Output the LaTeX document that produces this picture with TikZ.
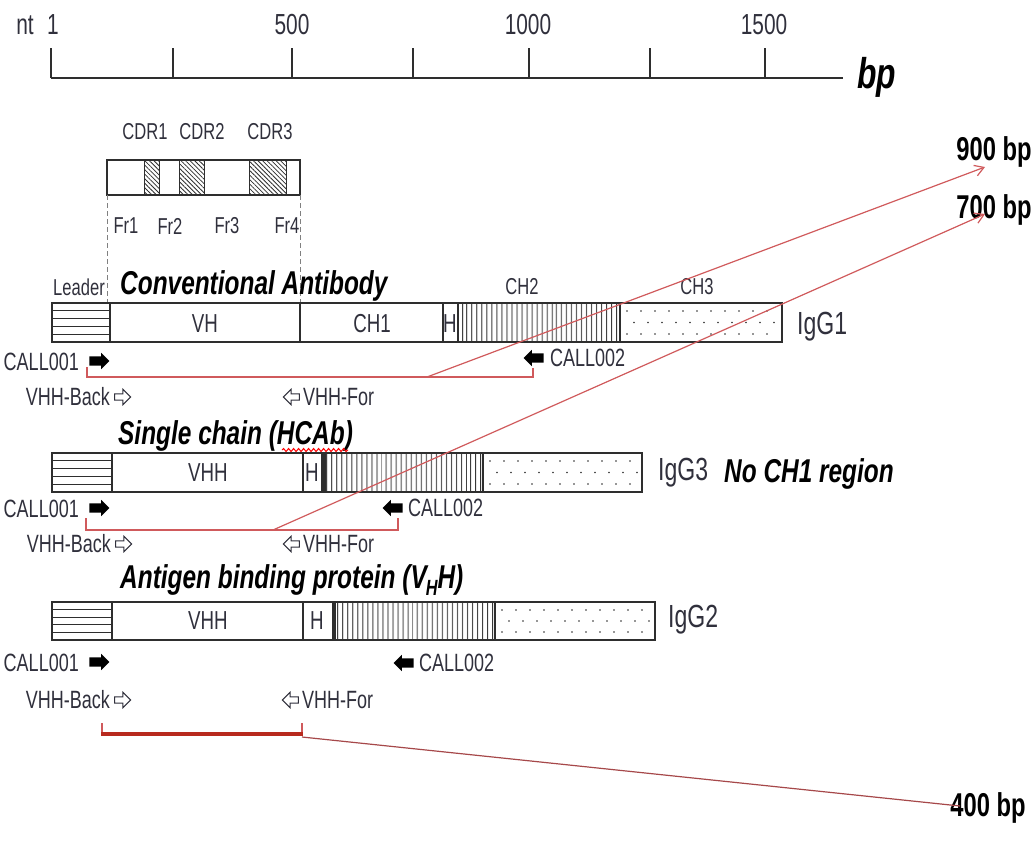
\documentclass[tikz,border=0pt]{standalone}
\usepackage{fontspec}
\setmainfont{Liberation Sans}
\newfontfamily\nf{Liberation Sans}[FakeStretch=0.72]
\newfontfamily\tf{Liberation Sans}[FakeStretch=0.74]
\usetikzlibrary{patterns.meta,shapes.arrows,decorations.pathmorphing,arrows.meta}
\definecolor{txt}{HTML}{30303C}
\definecolor{ln}{HTML}{2E2E2E}
\definecolor{redl}{HTML}{D05A5C}
\definecolor{redd}{HTML}{B82A1E}
\tikzset{
  lab/.style={font=\nf\fontsize{23}{25}\selectfont, text=txt, inner sep=0pt},
  inlab/.style={font=\nf\fontsize{26}{28}\selectfont, text=txt, inner sep=0pt},
  prim/.style={font=\nf\fontsize{25}{27}\selectfont, text=txt, inner sep=0pt},
  rul/.style={font=\nf\fontsize{29}{31}\selectfont, text=txt, inner sep=0pt},
  igg/.style={font=\nf\fontsize{32}{34}\selectfont, text=txt, inner sep=0pt},
  ttl/.style={font=\tf\bfseries\itshape\fontsize{33}{35}\selectfont, inner sep=0pt},
  bpl/.style={font=\nf\bfseries\fontsize{33}{35}\selectfont, inner sep=0pt},
  seg/.style={draw=ln, line width=1.3pt, fill=white},
  vstripe/.style={draw=ln, line width=1.3pt, pattern={Lines[angle=90,distance=5.4pt,line width=1pt]}, pattern color=ln},
  hatch/.style={draw=ln, line width=1pt, pattern={Lines[angle=-45,distance=3.2pt,line width=0.8pt]}, pattern color=ln},
  fwd/.style={single arrow, fill=black, draw=none, inner sep=4.4pt, single arrow head extend=3.6pt, minimum height=20pt},
  rev/.style={fwd, shape border rotate=180},
  ofwd/.style={single arrow, fill=white, draw=txt, line width=1.1pt, inner sep=2.6pt, single arrow head extend=4.5pt, minimum height=16pt},
  orev/.style={ofwd, shape border rotate=180},
  redthin/.style={draw=redl, line width=1.3pt},
  redarrow/.style={draw=redl, line width=1.2pt, -{Straight Barb[length=9pt,width=11pt]}},
  dashln/.style={draw=gray, line width=1pt, dash pattern=on 5pt off 3pt}
}
\newcommand\leaderbox[3]{% x2, ytop, ybot
  \draw[seg] (52,#2) rectangle (#1,#3);
  \foreach \k in {1,2,3,4} \draw[ln, line width=1pt] (52,{#2+(#3-#2)*\k/5}) -- (#1,{#2+(#3-#2)*\k/5});
}
\newcommand\dotbox[4]{% x1, x2, ytop, ybot
  \draw[seg] (#1,#3) rectangle (#2,#4);
  \pgfmathtruncatemacro\nn{(#2-#1-12)/14}
  \foreach \k in {0,...,\nn}{
    \fill[ln] ({#1+7+14*\k},{#3+8}) circle (0.9);
    \fill[ln] ({#1+7+14*\k},{#4-8}) circle (0.9);
  }
  \pgfmathtruncatemacro\mm{(#2-#1-19)/14}
  \foreach \k in {0,...,\mm}{
    \fill[ln] ({#1+14+14*\k},{(#3+#4)/2}) circle (0.9);
  }
}
\begin{document}
\begin{tikzpicture}[x=1pt,y=-1pt]
\useasboundingbox (0,0) rectangle (1034,844);
% ruler
\draw[ln, line width=1.5pt] (51,78) -- (843,78);
\foreach \x in {51,173,292,413,529,650,765} \draw[ln, line width=1.3pt] (\x,48) -- (\x,78);
\node[rul] (nt) at (25,25) {nt};
\node[rul] (r1) at (53,25) {1};
\node[rul] (r500) at (292,25) {500};
\node[rul] (r1000) at (528,25) {1000};
\node[rul] (r1500) at (764,25) {1500};
\node[font=\tf\bfseries\itshape\fontsize{43}{45}\selectfont, inner sep=0pt, anchor=base west] (bp) at (857,88) {bp};

% CDR box
\draw[seg] (107,160) rectangle (300,195);
\draw[hatch] (144,160) rectangle (159,195);
\draw[hatch] (179,160) rectangle (204,195);
\draw[hatch] (249,160) rectangle (286,195);
\node[lab] (cdr1) at (145,132) {CDR1};
\node[lab] (cdr2) at (202,132) {CDR2};
\node[lab] (cdr3) at (270,132) {CDR3};
\node[lab] (fr1) at (126,226) {Fr1};
\node[lab] (fr2) at (170,226) {Fr2};
\node[lab] (fr3) at (227,226) {Fr3};
\node[lab] (fr4) at (287,226) {Fr4};
\draw[dashln] (107,195) -- (107,303);
\draw[dashln] (300,195) -- (300,303);

% IgG1
\node[lab] (leader) at (79,287) {Leader};
\node[ttl, anchor=base west] (conv) at (120,294) {Conventional Antibody};
\node[lab] (ch2l) at (522,287) {CH2};
\node[lab] (ch3l) at (697,287) {CH3};
\leaderbox{110}{303}{342}
\draw[seg] (110,303) rectangle (300,342);
\draw[seg] (300,303) rectangle (443,342);
\draw[seg] (443,303) rectangle (458,342);
\draw[vstripe] (458,303) rectangle (620,342);
\dotbox{620}{782}{303}{342}
\node[inlab] (vh1) at (205,324) {VH};
\node[inlab] (ch1) at (372,324) {CH1};
\node[inlab] (h1) at (450,324) {H};
\node[igg, anchor=west] (igg1) at (797,327) {IgG1};
\node[prim, anchor=east] (c001a) at (79,362) {CALL001};
\node[fwd] (a001a) at (97,361) {};
\node[rev] (a002a) at (536,358) {};
\node[prim, anchor=west] (c002a) at (550,358) {CALL002};
\node[prim, anchor=east] (vba) at (110,397) {VHH-Back};
\node[ofwd] (avba) at (121,397) {};
\node[orev] (avfa) at (293,397) {};
\node[prim, anchor=west] (vfa) at (303,397) {VHH-For};

% IgG3
\node[ttl, anchor=base west] (sc) at (118,444) {Single chain (HCAb)};
\draw[red, line width=1pt, decorate, decoration={snake, segment length=5pt, amplitude=1.5pt}] (282,450) -- (348,450);
\leaderbox{112}{453}{492}
\draw[seg] (112,453) rectangle (303,492);
\draw[seg] (303,453) rectangle (322,492);
\draw[vstripe] (322,453) rectangle (483,492);
\draw[ln, line width=3.5pt] (324,453) -- (324,492);
\dotbox{483}{642}{453}{492}
\node[inlab] (vhh3) at (208,473) {VHH};
\node[inlab] (h3) at (312,473) {H};
\node[igg, anchor=west] (igg3) at (658,473) {IgG3};
\node[ttl, anchor=base west] (noch1) at (724,482) {No CH1 region};
\node[prim, anchor=east] (c001b) at (79,509) {CALL001};
\node[fwd] (a001b) at (97,508) {};
\node[rev] (a002b) at (395,508) {};
\node[prim, anchor=west] (c002b) at (408,508) {CALL002};
\node[prim, anchor=east] (vbb) at (111,544) {VHH-Back};
\node[ofwd] (avbb) at (122,544) {};
\node[orev] (avfb) at (293,544) {};
\node[prim, anchor=west] (vfb) at (303,544) {VHH-For};

% IgG2
\node[ttl, anchor=base west] (agb) at (120,588) {Antigen binding protein (V\kern-1pt\raisebox{-7pt}{\fontsize{22}{22}\selectfont H}H)};
\leaderbox{112}{602}{640}
\draw[seg] (112,602) rectangle (303,640);
\draw[seg] (303,602) rectangle (333,640);
\draw[vstripe] (333,602) rectangle (495,640);
\draw[ln, line width=3.5pt] (334,602) -- (334,640);
\dotbox{495}{655}{602}{640}
\node[inlab] (vhh2) at (208,621) {VHH};
\node[inlab] (h2) at (317,621) {H};
\node[igg, anchor=west] (igg2) at (668,620) {IgG2};
\node[prim, anchor=east] (c001c) at (79,663) {CALL001};
\node[fwd] (a001c) at (97,662) {};
\node[rev] (a002c) at (406,663) {};
\node[prim, anchor=west] (c002c) at (419,663) {CALL002};
\node[prim, anchor=east] (vbc) at (110,700) {VHH-Back};
\node[ofwd] (avbc) at (121,700) {};
\node[orev] (avfc) at (292,700) {};
\node[prim, anchor=west] (vfc) at (302,700) {VHH-For};

% size labels
\node[bpl] (b900) at (994,152) {900 bp};
\node[bpl] (b700) at (994,210) {700 bp};
\node[bpl] (b400) at (988,808) {400 bp};
\coordinate (t900) at (985,167);
\coordinate (t700) at (985,214);
\coordinate (t400) at (960,806);

% PCR products
\coordinate (p1) at (427,377);
\coordinate (p3) at (273,530);
\coordinate (p2) at (302,737);
\draw[redthin] (87,367) -- (87,377) -- (533,377) -- (533,368);
\draw[redarrow] (p1) -- (t900);
\draw[redthin] (86,518) -- (86,530) -- (398,530) -- (398,518);
\draw[redarrow] (p3) -- (t700);
\draw[redthin] (102,723) -- (102,735);
\draw[redthin] (302,723) -- (302,735);
\draw[redd, line width=3.5pt] (101,734) -- (303,734);
\draw[draw=redl!80!black, line width=1.2pt] (p2) -- (t400);
\end{tikzpicture}
\end{document}
